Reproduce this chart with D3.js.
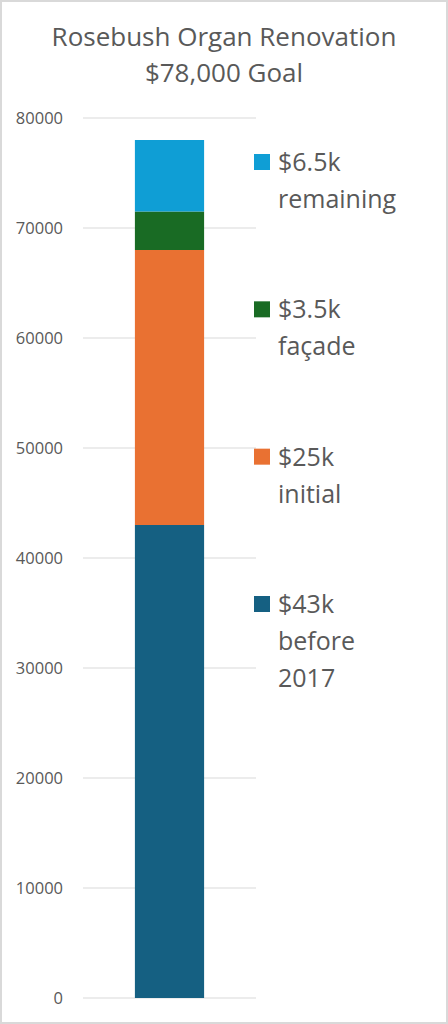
<!DOCTYPE html>
<html>
<head>
<meta charset="utf-8">
<script src="https://cdn.jsdelivr.net/npm/d3@7"></script>
<style>
  body { margin: 0; background: #fff; }
  svg { display: block; font-family: "Open Sans", Roboto, sans-serif; }
</style>
</head>
<body>
<script>
// chart values
const segments = ['before 2017', 'initial', 'façade', 'remaining']
const amounts = [43000, 25000, 3500, 6500]
const legendTop = ['$43k', '$25k', '$3.5k', '$6.5k']
const legendBottom = [['before', '2017'], ['initial'], ['façade'], ['remaining']]
const colors = ['#156082', '#E97132', '#196B24', '#0F9ED5']
const yTicks = [0, 10000, 20000, 30000, 40000, 50000, 60000, 70000, 80000]
const titleLines = ['Rosebush Organ Renovation', '$78,000 Goal']

const width = 448, height = 1024
const plot = {left: 83, right: 256, top: 118, bottom: 998}

const svg = d3.select('body').append('svg')
    .attr('width', width)
    .attr('height', height)

// outer frame
svg.append('rect')
    .attr('x', 1).attr('y', 1)
    .attr('width', width - 2).attr('height', height - 2)
    .attr('fill', '#fff')
    .attr('stroke', '#d9d9d9')
    .attr('stroke-width', 2)

// title
svg.selectAll('text.title')
    .data(titleLines)
    .enter()
    .append('text')
    .attr('class', 'title')
    .attr('x', 224)
    .attr('y', (d, i) => 46 + i * 36)
    .attr('text-anchor', 'middle')
    .attr('font-size', '26px')
    .attr('fill', '#595959')
    .text(d => d)

const yScale = d3.scaleLinear()
    .domain([0, 80000])
    .range([plot.bottom, plot.top])

const xScale = d3.scaleBand()
    .domain(['goal'])
    .range([plot.left, plot.right])
    .paddingInner(0.6)
    .paddingOuter(0.3)

// gridlines
svg.append('g')
    .selectAll('line')
    .data(yTicks)
    .enter()
    .append('line')
    .attr('x1', plot.left)
    .attr('x2', plot.right)
    .attr('y1', d => yScale(d))
    .attr('y2', d => yScale(d))
    .attr('stroke', '#d9d9d9')
    .attr('stroke-width', 1)

// y axis labels only
const yAxis = svg.append('g')
    .attr('transform', 'translate(' + (plot.left - 5) + ',0)')
    .call(d3.axisLeft(yScale).tickValues(yTicks).tickFormat(d3.format('d')).tickSize(0).tickPadding(15))
yAxis.select('.domain').remove()
yAxis.selectAll('text')
    .attr('font-size', '16.5px')
    .attr('font-family', '"Open Sans", Roboto, sans-serif')
    .attr('fill', '#595959')

// stacked bar
const row = {key: 'goal'}
segments.forEach((s, i) => row[s] = amounts[i])
const stacked = d3.stack().keys(segments)([row])

svg.append('g')
    .selectAll('rect')
    .data(stacked)
    .enter()
    .append('rect')
    .attr('x', xScale('goal'))
    .attr('width', xScale.bandwidth())
    .attr('y', d => yScale(d[0][1]))
    .attr('height', d => yScale(d[0][0]) - yScale(d[0][1]))
    .attr('fill', (d, i) => colors[i])

// legend, top entry first
const legendY = d3.scalePoint()
    .domain(segments.slice().reverse())
    .range([171, 613])

const legend = svg.append('g')
    .selectAll('g')
    .data(segments)
    .enter()
    .append('g')
    .attr('transform', d => 'translate(254,' + legendY(d) + ')')

legend.append('rect')
    .attr('x', 0)
    .attr('y', -17)
    .attr('width', 16)
    .attr('height', 16)
    .attr('fill', (d, i) => colors[i])

legend.append('text')
    .attr('x', 24)
    .attr('y', 0)
    .attr('font-size', '25px')
    .attr('fill', '#595959')
    .each(function(d, i) {
        const t = d3.select(this)
        const lines = [legendTop[i]].concat(legendBottom[i])
        lines.forEach((l, j) => {
            t.append('tspan')
                .attr('x', 24)
                .attr('y', j * 37)
                .text(l)
        })
    })
</script>
</body>
</html>
